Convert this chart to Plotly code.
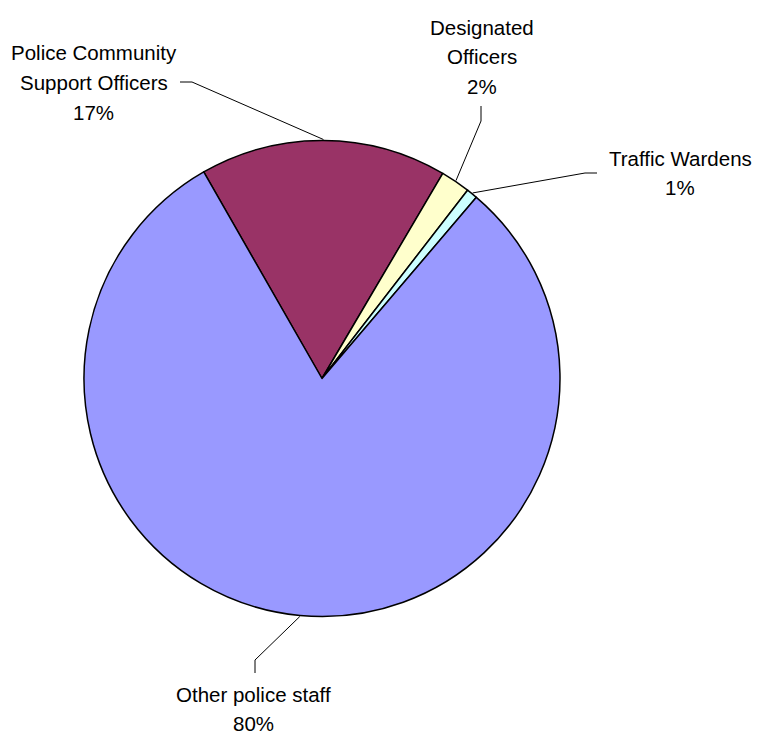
import math
import plotly.graph_objects as go

# ---- data ----
categories = ["Police Community Support Officers", "Designated Officers", "Traffic Wardens", "Other police staff"]
label_lines = [["Police Community", "Support Officers"], ["Designated", "Officers"], ["Traffic Wardens"], ["Other police staff"]]
values = [16.75, 2.0, 0.76, 80.49]
colors = ["#993366", "#FFFFCC", "#CCFFFF", "#9999FF"]

# ---- layout constants (pixels) ----
W, H = 760, 731
CX, CY, R = 322, 378.5, 238
ROTATION = -29.8
FONT = dict(family="Liberation Sans, Arial, sans-serif", size=20.5, color="black")
LINE_GAP = 29.5
# label centre (x, y of first line), leader anchor, elbow
label_pos = [(93.5, 53), (482, 27), (680, 158), (253.5, 694)]
anchors = [((180, 82), (192, 82)), ((481, 106), (481, 121)), ((597, 173), (585, 173)), ((255, 673), (255, 660))]


def px(x):
    return x / W


def py(y):
    return 1 - y / H


fig = go.Figure(go.Pie(
    labels=categories, values=values, sort=False, direction="clockwise",
    rotation=ROTATION, marker=dict(colors=colors, line=dict(color="black", width=1.5)),
    textinfo="none", hoverinfo="skip", showlegend=False,
    domain=dict(x=[px(CX - R), px(CX + R)], y=[py(CY + R), py(CY - R)]),
))

total = sum(values)
start = ROTATION
shapes = []
annotations = []
for i, v in enumerate(values):
    span = v / total * 360
    mid = math.radians(start + span / 2)
    start += span
    ex, ey = CX + (R + 1) * math.sin(mid), CY - (R + 1) * math.cos(mid)
    (ax, ay), (bx, by) = anchors[i]
    shapes.append(dict(type="path", xref="paper", yref="paper",
                       path=f"M {px(ax)} {py(ay)} L {px(bx)} {py(by)} L {px(ex)} {py(ey)}",
                       line=dict(color="black", width=1)))
    lx, ly = label_pos[i]
    lines = label_lines[i] + [f"{round(v / total * 100)}%"]
    for k, t in enumerate(lines):
        annotations.append(dict(text=t, x=px(lx), y=py(ly + k * LINE_GAP), xref="paper", yref="paper",
                                xanchor="center", yanchor="middle", showarrow=False, font=FONT))

fig.update_layout(width=W, height=H, margin=dict(l=0, r=0, t=0, b=0),
                  paper_bgcolor="white", plot_bgcolor="white",
                  shapes=shapes, annotations=annotations)
fig.write_html("out.html", config={"displayModeBar": False},
               post_script="document.body.style.margin='0';document.body.style.overflow='hidden';")
